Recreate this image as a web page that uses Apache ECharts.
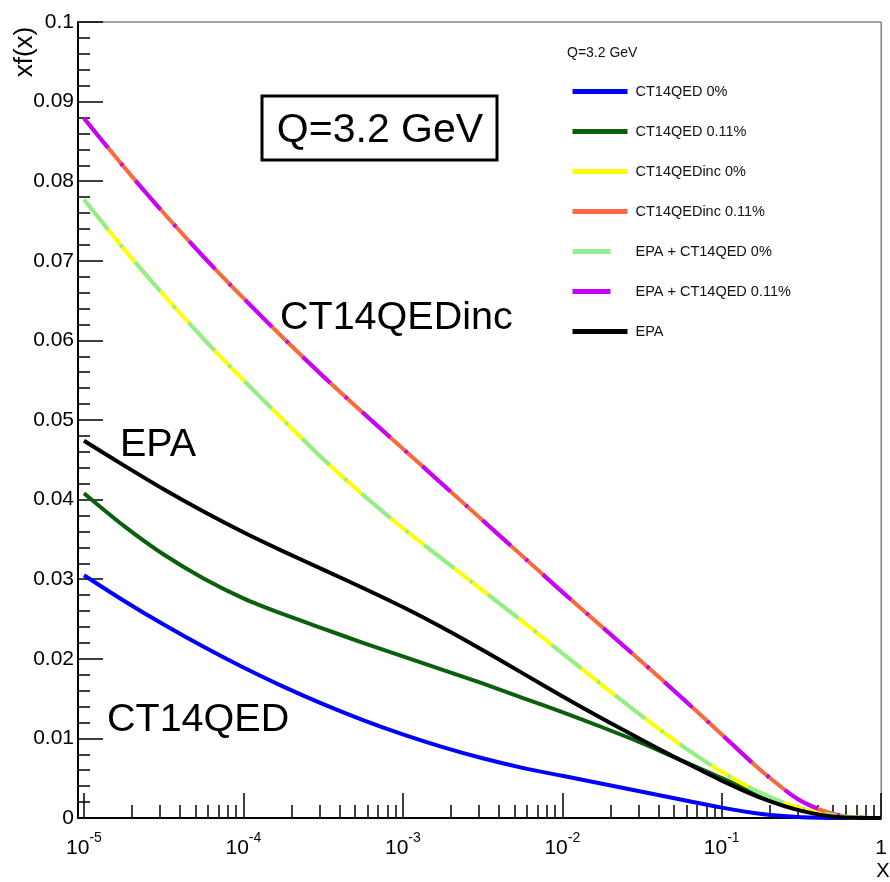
<!DOCTYPE html>
<html>
<head>
<meta charset="utf-8">
<script src="https://cdn.jsdelivr.net/npm/echarts@6/dist/echarts.min.js"></script>
<style>
html,body{margin:0;padding:0;background:#fff;}
#chart{width:890px;height:882px;}
</style>
</head>
<body>
<div id="chart"></div>
<script>
// x values (quarter decades from 1e-5 to 1)
var xs = [1e-5, 1.778e-5, 3.162e-5, 5.623e-5, 1e-4, 1.778e-4, 3.162e-4, 5.623e-4,
          1e-3, 1.778e-3, 3.162e-3, 5.623e-3, 1e-2, 1.778e-2, 3.162e-2, 5.623e-2,
          0.1, 0.1778, 0.3162, 0.5623, 1];
var ct14qed0      = [0.0305,0.0273,0.0243,0.0215,0.0189,0.0165,0.0143,0.0123,0.0105,0.0089,0.0075,0.0063,0.0053,0.0043,0.0033,0.0023,0.0013,0.0005,0.0001,0,0];
var ct14qed011    = [0.0408,0.0367,0.0331,0.0301,0.0276,0.0256,0.0238,0.0220,0.0203,0.0186,0.0169,0.0151,0.0133,0.0114,0.0094,0.0072,0.0050,0.0028,0.0010,0.0001,0];
var ct14qedinc0   = [0.0777,0.0715,0.0657,0.0602,0.0550,0.0500,0.0451,0.0406,0.0364,0.0325,0.0286,0.0247,0.0207,0.0167,0.0128,0.0091,0.0058,0.0031,0.0012,0.0002,0];
var ct14qedinc011 = [0.0879,0.0818,0.0760,0.0705,0.0653,0.0603,0.0555,0.0509,0.0464,0.0419,0.0374,0.0329,0.0284,0.0240,0.0196,0.0151,0.0105,0.0059,0.0021,0.0003,0];
var epaCt14qed0   = [0.0777,0.0715,0.0657,0.0602,0.0550,0.0500,0.0451,0.0406,0.0364,0.0325,0.0286,0.0247,0.0207,0.0167,0.0128,0.0091,0.0058,0.0031,0.0012,0.0002,0];
var epaCt14qed011 = [0.0879,0.0818,0.0760,0.0705,0.0653,0.0603,0.0555,0.0509,0.0464,0.0419,0.0374,0.0329,0.0284,0.0240,0.0196,0.0151,0.0105,0.0059,0.0021,0.0003,0];
var epa           = [0.0474,0.0443,0.0413,0.0385,0.0359,0.0335,0.0312,0.0289,0.0265,0.0239,0.0211,0.0182,0.0153,0.0125,0.0098,0.0072,0.0047,0.0025,0.0009,0.0001,0];

var seriesNames = ['CT14QED 0%','CT14QED 0.11%','CT14QEDinc 0%','CT14QEDinc 0.11%','EPA + CT14QED 0%','EPA + CT14QED 0.11%','EPA'];
var majorTickExp = [-5,-4,-3,-2,-1,0];
var minorTickMult = [2,3,4,5,6,7,8,9];

var SANS = "'Liberation Sans', Arial, sans-serif";

function toPairs(ys){ return xs.map(function(x,i){ return [Math.log10(x), ys[i]]; }); }

var minorTicks = [];
majorTickExp.slice(0,5).forEach(function(e){
  minorTickMult.forEach(function(m){ minorTicks.push(e + Math.log10(m)); });
});

var dashDot = [38,20,3,20];
function mkSeries(name, data, color, dash){
  return {
    name: name, type: 'line', data: toPairs(data), symbol: 'none', smooth: 0.3,
    xAxisIndex: 0,
    lineStyle: {color: color, width: 4, type: dash || 'solid', cap: 'butt'},
    itemStyle: {color: color}
  };
}

var XMIN = -5.0375;
var chart = echarts.init(document.getElementById('chart'));
chart.setOption({
  animation: false,
  backgroundColor: '#fff',
  grid: {left: 78, right: 7, top: 22, bottom: 64, show: true, borderColor: '#444', borderWidth: 1, backgroundColor: 'transparent'},
  xAxis: [{
    type: 'value', min: XMIN, max: 0, position: 'bottom',
    axisLine: {show: true, onZero: false, lineStyle: {color: '#000', width: 2}},
    axisTick: {show: true, inside: true, length: 25, customValues: majorTickExp, lineStyle: {color: '#000', width: 1.5}},
    axisLabel: {
      customValues: majorTickExp, margin: 13, color: '#000',
      formatter: function(v){
        if (Math.abs(v) < 1e-9) return '{b|1}';
        return '{b|10}{s|' + Math.round(v) + '}';
      },
      rich: {
        b: {fontFamily: SANS, fontSize: 21, color: '#000', lineHeight: 28, verticalAlign: 'bottom'},
        s: {fontFamily: SANS, fontSize: 14, color: '#000', lineHeight: 28, verticalAlign: 'top'}
      }
    },
    splitLine: {show: false}
  },{
    type: 'value', min: XMIN, max: 0, position: 'bottom',
    axisLine: {show: false, onZero: false},
    axisTick: {show: true, inside: true, length: 13, customValues: minorTicks, lineStyle: {color: '#000', width: 1.5}},
    axisLabel: {show: false},
    splitLine: {show: false}
  }],
  yAxis: {
    type: 'value', min: 0, max: 0.1, interval: 0.01, position: 'left',
    axisLine: {show: true, onZero: false, lineStyle: {color: '#000', width: 2}},
    axisTick: {show: true, inside: true, length: 25, lineStyle: {color: '#000', width: 1.5}},
    minorTick: {show: true, splitNumber: 5, length: 12, lineStyle: {color: '#000', width: 1.5}},
    axisLabel: {fontFamily: SANS, fontSize: 21, color: '#000', margin: 4},
    splitLine: {show: false}
  },
  legend: {
    orient: 'vertical', left: 570, top: 84, padding: 0, itemWidth: 55, itemHeight: 14, itemGap: 25,
    data: seriesNames,
    textStyle: {fontFamily: SANS, fontSize: 14.5, color: '#111', padding: [0,0,0,3]},
    lineStyle: {width: 5},
    itemStyle: {opacity: 0}
  },
  graphic: [
    {type: 'rect', shape: {x: 262, y: 96, width: 235, height: 64}, style: {fill: '#fff', stroke: '#000', lineWidth: 3}, z: 10},
    {type: 'text', x: 380, y: 131, z: 11, style: {text: 'Q=3.2 GeV', font: '41px ' + SANS, fill: '#000', align: 'center', textAlign: 'center', verticalAlign: 'middle', textVerticalAlign: 'middle'}},
    {type: 'text', x: 280, y: 318, z: 11, style: {text: 'CT14QEDinc', font: '39.5px ' + SANS, fill: '#000', align: 'left', textAlign: 'left', verticalAlign: 'middle', textVerticalAlign: 'middle'}},
    {type: 'text', x: 120, y: 445, z: 11, style: {text: 'EPA', font: '39.5px ' + SANS, fill: '#000', align: 'left', textAlign: 'left', verticalAlign: 'middle', textVerticalAlign: 'middle'}},
    {type: 'text', x: 107, y: 720, z: 11, style: {text: 'CT14QED', font: '39.5px ' + SANS, fill: '#000', align: 'left', textAlign: 'left', verticalAlign: 'middle', textVerticalAlign: 'middle'}},
    {type: 'text', x: 25, y: 52, rotation: Math.PI/2, z: 11, style: {text: 'xf(x)', font: '26px ' + SANS, fill: '#000', align: 'center', textAlign: 'center', verticalAlign: 'middle', textVerticalAlign: 'middle'}},
    {type: 'text', x: 883, y: 871, z: 11, style: {text: 'X', font: '20px ' + SANS, fill: '#000', align: 'center', textAlign: 'center', verticalAlign: 'middle', textVerticalAlign: 'middle'}},
    {type: 'text', x: 567, y: 53, z: 11, style: {text: 'Q=3.2 GeV', font: '14px ' + SANS, fill: '#111', align: 'left', textAlign: 'left', verticalAlign: 'middle', textVerticalAlign: 'middle'}}
  ],
  series: [
    mkSeries(seriesNames[0], ct14qed0, '#0000ff'),
    mkSeries(seriesNames[1], ct14qed011, '#0b600b'),
    mkSeries(seriesNames[2], ct14qedinc0, '#ffff00'),
    mkSeries(seriesNames[3], ct14qedinc011, '#fa6a3c'),
    mkSeries(seriesNames[4], epaCt14qed0, '#90ee90', dashDot),
    mkSeries(seriesNames[5], epaCt14qed011, '#c800ff', dashDot),
    mkSeries(seriesNames[6], epa, '#000000')
  ]
});
</script>
</body>
</html>
